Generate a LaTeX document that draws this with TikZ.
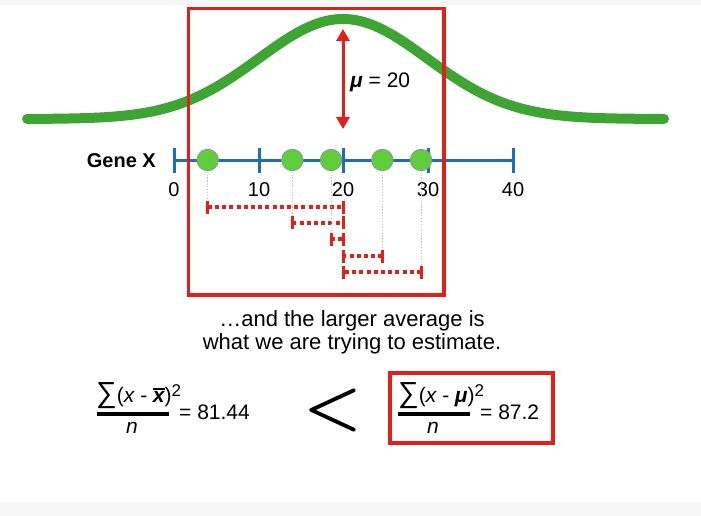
\documentclass[tikz,border=0pt]{standalone}
\usepackage{fontspec}
\usepackage{graphicx}
\setmainfont{Liberation Sans}
\usetikzlibrary{arrows.meta}
\definecolor{boxred}{RGB}{226,32,26}
\definecolor{curvegreen}{RGB}{62,165,52}
\definecolor{dotgreen}{RGB}{96,205,60}
\definecolor{axisblue}{RGB}{30,110,180}
\definecolor{bandgray}{RGB}{247,247,247}
\newcommand\xbarsym{\vbox{\hrule height 1.5pt\kern 1.2pt\hbox{\bfseries\itshape x}}}
\newcommand\supsym[1]{\raisebox{6pt}{\fontsize{17}{17}\selectfont #1}}
\newcommand\bigsum{\raisebox{-0.5pt}{\scalebox{1.38}{∑}}}
\newcommand\tsp{\hspace{0.26em}}
\begin{document}
\begin{tikzpicture}[x=1pt,y=-1pt,
  curve/.style={draw=curvegreen,line width=10pt,line cap=round},
  axisline/.style={draw=axisblue,line width=3pt},
  axistick/.style={draw=axisblue,line width=3pt},
  dotnode/.style={circle,fill=dotgreen,draw=gray!85,line width=0.8pt,minimum size=21.5pt,inner sep=0pt},
  guide/.style={draw=gray!45,line width=1pt,dash pattern=on 1.3pt off 1.6pt},
  devbar/.style={draw=boxred,line width=3.8pt,dash pattern=on 4pt off 3.2pt},
  devtick/.style={draw=boxred,line width=3pt},
  redbox/.style={draw=boxred,line width=3.5pt},
  lab/.style={font=\fontsize{20}{22}\selectfont,inner sep=0pt,anchor=base},
  txt/.style={font=\fontsize{22}{24}\selectfont,inner sep=0pt,anchor=base},
  frml/.style={font=\fontsize{21}{24}\selectfont,inner sep=0pt,anchor=base},
  fracbar/.style={draw=black,line width=3.6pt}]
\useasboundingbox (0,0) rectangle (701,516);
\fill[white] (0,0) rectangle (701,516);
\fill[bandgray] (0,0) rectangle (701,5);
\fill[bandgray] (0,502) rectangle (701,516);

% bell curve
\draw[curve] plot[domain=27:664,samples=220,smooth] (\x,{119-100*exp(-0.5*pow((\x-343)/84,2))});

% mean arrow
\coordinate (atop) at (343,29);
\coordinate (abot) at (343,129);
\draw[draw=boxred,line width=3pt,{Triangle[width=13pt,length=12pt]}-{Triangle[width=13pt,length=12pt]}] (atop) -- (abot);
\node[lab,anchor=base west,font=\fontsize{21}{22}\selectfont] (mu) at (350,88) {{\bfseries\itshape μ} = 20};

% axis
\coordinate (ax0) at (174,160);
\coordinate (ax40) at (513,160);
\draw[axisline] (ax0) -- (ax40);
\foreach \v/\px in {0/174,10/259,20/343,30/428,40/513}{
  \coordinate (t\v a) at (\px,147.5);
  \coordinate (t\v b) at (\px,172.5);
  \draw[axistick] (t\v a) -- (t\v b);
  \node[lab] (l\v) at (\px,196.5) {\v};
}
\node[font=\bfseries\fontsize{20}{22}\selectfont,inner sep=0pt,anchor=base east] (gene) at (156,167) {Gene X};

% deviations
\foreach \i/\px/\py in {1/207.7/207,2/292.3/222.7,3/331/239,4/382.3/256,5/421/272}{
  \coordinate (e\i) at (\px,\py);
  \coordinate (m\i) at (343,\py);
  \coordinate (d\i pos) at (\px,160);
  \draw[guide] (d\i pos) -- (e\i);
  \draw[devbar] (e\i) -- (m\i);
  \draw[devtick] ([yshift=-6.5pt]e\i) -- ([yshift=6.5pt]e\i);
  \draw[devtick] ([yshift=-6.5pt]m\i) -- ([yshift=6.5pt]m\i);
  \node[dotnode] (d\i) at (d\i pos) {};
}

% big red box
\draw[redbox] (188.5,8.5) rectangle (444,295);

% explanatory text
\node[txt] (t1) at (352,326) {…and the larger average is};
\node[txt] (t2) at (352,349.3) {what we are trying to estimate.};

% left formula
\node[frml,anchor=base west] (num1) at (96,402) {\bigsum(\textit{x}\tsp-\tsp\xbarsym)\supsym{2}};
\coordinate (f1l) at (97,414);
\coordinate (f1r) at (169,414);
\draw[fracbar] (f1l) -- (f1r);
\node[frml] (den1) at (132,433) {\textit{n}};
\node[frml,anchor=base west] (eq1) at (179,419) {= 81.44};

% less than
\node[inner sep=0pt] (lt) at (333,410) {\scalebox{6.6}[6.4]{\boldmath$<$}};

% right formula in box
\node[frml,anchor=base west] (num2) at (398,402) {\bigsum(\textit{x}\tsp-\tsp{\bfseries\itshape μ})\supsym{2}};
\coordinate (f2l) at (398,414);
\coordinate (f2r) at (470,414);
\draw[fracbar] (f2l) -- (f2r);
\node[frml] (den2) at (433,433) {\textit{n}};
\node[frml,anchor=base west] (eq2) at (480,419) {= 87.2};
\draw[redbox] (390,373) rectangle (553,443);
\end{tikzpicture}
\end{document}
